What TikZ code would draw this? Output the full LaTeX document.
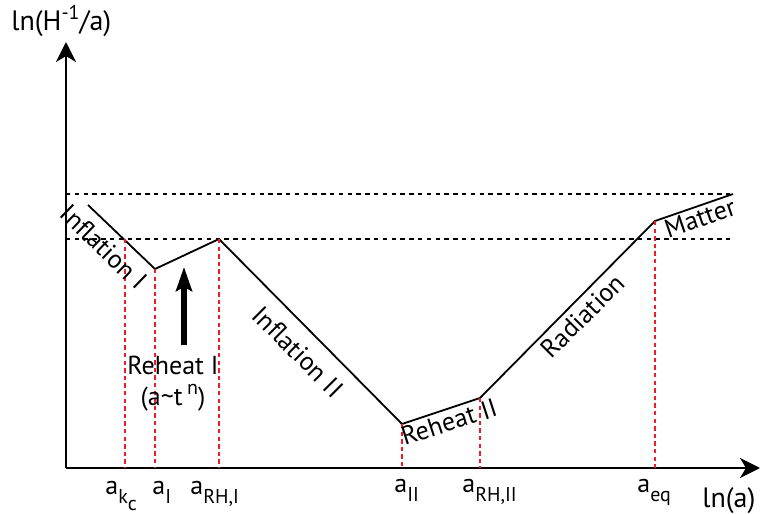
\documentclass[tikz,border=0pt]{standalone}
\usepackage{fontspec}
\setmainfont{PT Sans}
\usetikzlibrary{arrows.meta}
\definecolor{cutRed}{HTML}{EE1C25}
\newcommand{\lowsub}[1]{\raisebox{-0.7ex}{\fontsize{10}{10}\selectfont #1}}
\newcommand{\highsup}[1]{\raisebox{0.85ex}{\fontsize{10}{10}\selectfont #1}}

\begin{document}
\begin{tikzpicture}[x=0.5pt,y=-0.5pt,
  font=\fontsize{13}{15.5}\selectfont,
  axis/.style={line width=1.2pt, -{Stealth[length=10pt,width=10pt,inset=3pt]}},
  axislabel/.style={anchor=base west, inner sep=0pt, font=\fontsize{14}{16}\selectfont},
  curve/.style={line width=0.9pt},
  level/.style={line width=0.75pt, dash pattern=on 2.2pt off 2.2pt},
  epoch/.style={draw=cutRed, line width=1pt, dash pattern=on 2.2pt off 1.6pt},
  push/.style={line width=2.6pt, -{Stealth[length=12pt,width=8pt,inset=2pt]}},
  tick/.style={anchor=base west, inner sep=0pt},
  phase/.style={inner sep=1pt}
]
\useasboundingbox (0,0) rectangle (762,514);
% axes
\coordinate (origin) at (66,468);
\coordinate (ytip) at (66,42);
\coordinate (xtip) at (760,468);
\draw[axis] (origin) -- (ytip);
\draw[axis] (origin) -- (xtip);
\node[axislabel] (ylab) at (11,31) {ln(H\highsup{-1}/a)};
\node[axislabel] (xlab) at (702,507) {ln(a)};

% horizon levels
\coordinate (hiL) at (66,194);
\coordinate (hiR) at (733,194);
\coordinate (loL) at (66,239);
\coordinate (loR) at (733,239);
\draw[level] (hiL) -- (hiR);
\draw[level] (loL) -- (loR);

% comoving horizon
\coordinate (p0) at (88,205);
\coordinate (aI) at (155,269);
\coordinate (aRHI) at (219,239);
\coordinate (aII) at (402,424);
\coordinate (aRHII) at (480,398);
\coordinate (aeq) at (655,221);
\coordinate (p6) at (733,194);
\coordinate (akc) at (124.5,239);
\draw[curve] (p0) -- (aI) -- (aRHI) -- (aII) -- (aRHII) -- (aeq) -- (p6);

% epochs
\foreach \ep in {akc,aI,aRHI,aII,aRHII,aeq}
  \draw[epoch] (\ep) -- (\ep |- origin);

\node[tick] (kclab) at (105,494) {a\lowsub{k\lowsub{c}}};
\node[tick] (Ilab) at (152,494) {a\lowsub{I}};
\node[tick] (RHIlab) at (190,494) {a\lowsub{RH,I}};
\node[tick] (IIlab) at (394,492) {a\lowsub{II}};
\node[tick] (RHIIlab) at (462,492) {a\lowsub{RH,II}};
\node[tick] (eqlab) at (637,492) {a\lowsub{eq}};

% phases
\node[phase, rotate=-44] (infI) at (104,247) {Inflation I};
\node[phase, rotate=-45] (infII) at (298,352) {Inflation II};
\node[phase, rotate=18] (rehII) at (449,422) {Reheat II};
\node[phase, rotate=45] (rad) at (583,316) {Radiation};
\node[phase, rotate=19] (mat) at (700,218) {Matter};
\node[phase, align=center] (rehI) at (173,384) {Reheat I\\(a\textasciitilde t\,\highsup{n})};

\coordinate (pushtail) at (184,345);
\coordinate (pushtip) at (184,267);
\draw[push] (pushtail) -- (pushtip);
\end{tikzpicture}
\end{document}
